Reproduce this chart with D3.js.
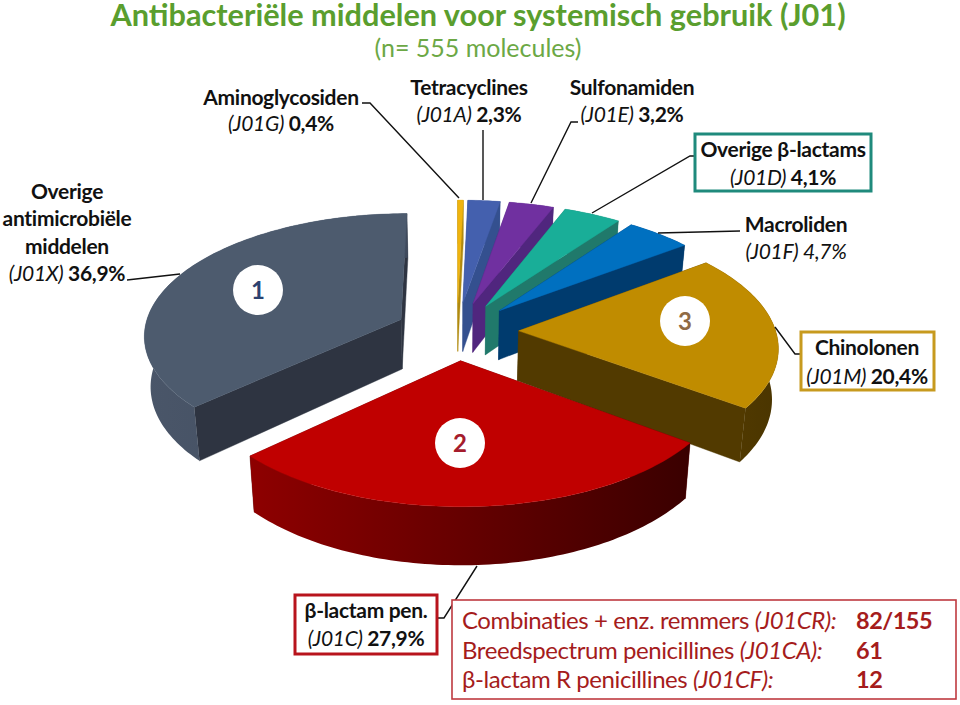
<!DOCTYPE html>
<html><head><meta charset="utf-8">
<script src="https://cdn.jsdelivr.net/npm/d3@7"></script>
<style>
html,body{margin:0;padding:0;background:#fff}
svg{display:block}
text{font-family:Lato,"Open Sans",sans-serif}
</style></head><body><svg id="c" width="960" height="705"></svg>
<script>
const categories=["Aminoglycosiden","Tetracyclines","Sulfonamiden","Overige β-lactams","Macroliden","Chinolonen","β-lactam pen.","Overige antimicrobiële middelen"];
const codes=["J01G","J01A","J01E","J01D","J01F","J01M","J01C","J01X"];
const shares=[0.4,2.3,3.2,4.1,4.7,20.4,27.9,36.9];
const shareLabels=["0,4%","2,3%","3,2%","4,1%","4,7%","20,4%","27,9%","36,9%"];
const topColors=["#EFB40F","#4460AE","#7030A0","#19AE98","#0070C0","#C08C00","#C00000","#4D5B6E"];
const sideColors=["#B08A10","#34508F","#50267E","#20796B","#003B6E","#523A00","#5C0000","#2E3441"];
const wallLeft=["#B08A10","#34508F","#50267E","#20796B","#003B6E","#553C00","#8E0000","#4A5669"];
const wallRight=["#B08A10","#34508F","#50267E","#20796B","#003B6E","#4A3500","#3A0000","#3F4A5C"];
const drawOrder=[0,1,2,3,4,7,5,6];
const subItems=["Combinaties + enz. remmers","Breedspectrum penicillines","β-lactam R penicillines"];
const subCodes=["J01CR","J01CA","J01CF"];
const subValues=["82/155","61","12"];

const svg=d3.select("#c");
const defs=svg.append("defs");
const cx=457,cy=331,A=257,B=121,P=0.118,EXPLODE=0.24,DEPTH=50,SHRINK=0.98;
const sx=d3.scaleLinear([0,1],[cx,cx+A]);
const sy=d3.scaleLinear([0,1],[cy,cy-B]);
function projTop(X,Y){const w=1+P*Y;return [sx(X/w),sy(Y/w)];}
function projBot(X,Y){const w=1+P*Y;return [cx+(sx(X/w)-cx)*SHRINK,sy(Y/w)+DEPTH/w];}
const line=d3.line();
const arcs=d3.pie().sort(null)(shares);

drawOrder.forEach(i=>{
  const a=arcs[i],mid=(a.startAngle+a.endAngle)/2;
  const ox=EXPLODE*Math.sin(mid),oy=EXPLODE*Math.cos(mid);
  const n=Math.max(2,Math.ceil((a.endAngle-a.startAngle)/0.02));
  const ang=d3.range(n+1).map(k=>a.startAngle+(a.endAngle-a.startAngle)*k/n);
  const rim=ang.map(t=>[ox+Math.sin(t),oy+Math.cos(t)]);
  const topRim=rim.map(p=>projTop(p[0],p[1]));
  const botRim=rim.map(p=>projBot(p[0],p[1]));
  const g=svg.append("g").attr("class","slice");
  const apexT=projTop(ox,oy),apexB=projBot(ox,oy);
  [[0],[n]].forEach(([k])=>{
    g.append("path").attr("d",line([apexT,topRim[k],botRim[k],apexB])+"Z")
     .attr("fill",sideColors[i]).attr("stroke",sideColors[i]).attr("stroke-width",0.4);
  });
  const xs=topRim.map(p=>p[0]);
  const id="w"+i;
  const lg=defs.append("linearGradient").attr("id",id).attr("gradientUnits","userSpaceOnUse")
    .attr("x1",d3.min(xs)).attr("x2",d3.max(xs)).attr("y1",0).attr("y2",0);
  lg.append("stop").attr("offset",0).attr("stop-color",wallLeft[i]);
  lg.append("stop").attr("offset",1).attr("stop-color",wallRight[i]);
  g.append("path").attr("d",line(topRim.concat(botRim.slice().reverse()))+"Z")
   .attr("fill","url(#"+id+")");
  g.append("path").attr("d",line([apexT].concat(topRim))+"Z").attr("fill",topColors[i])
   .attr("stroke",topColors[i]).attr("stroke-width",0.4);
});

const leaders=[
 [[362,103],[370,103],[459,198]],
 [[483,130],[483,200]],
 [[578,122],[571,122],[531,203]],
 [[694,156],[690,156],[592,213]],
 [[740,231],[658,233]],
 [[802,354],[795,354],[775,327]],
 [[127,280],[180,274]],
 [[437,618],[444,618],[477,566]]
];
svg.append("g").selectAll("path").data(leaders).join("path")
 .attr("d",d=>line(d)).attr("fill","none").attr("stroke","#111").attr("stroke-width",1.4);

const boxes=[
 {x:695,y:134,w:176,h:57,c:"#1F8A7C",s:3},
 {x:801,y:332,w:133,h:58,c:"#C79A1E",s:3},
 {x:295,y:595,w:142,h:59,c:"#B8141C",s:3},
 {x:452,y:600,w:504,h:99,c:"#BE3A40",s:1.6}
];
svg.append("g").selectAll("rect").data(boxes).join("rect")
 .attr("x",d=>d.x).attr("y",d=>d.y).attr("width",d=>d.w).attr("height",d=>d.h)
 .attr("fill","#fff").attr("stroke",d=>d.c).attr("stroke-width",d=>d.s);

const badges=[{t:"1",x:258,y:290,c:"#2C4270"},{t:"2",x:460,y:443,c:"#A51C2C"},{t:"3",x:685,y:321,c:"#8F6B45"}];
const bg=svg.append("g").selectAll("g").data(badges).join("g");
bg.append("circle").attr("cx",d=>d.x).attr("cy",d=>d.y).attr("r",25).attr("fill","#fff");
bg.append("text").attr("x",d=>d.x).attr("y",d=>d.y+8.5).attr("text-anchor","middle")
 .attr("font-size",24).attr("font-weight",700).attr("fill",d=>d.c).text(d=>d.t);

function put(x,y,size,anchor,fill,runs,ls){
  const t=svg.append("text").attr("x",x).attr("y",y).attr("font-size",size).attr("text-anchor",anchor)
    .attr("fill",fill).attr("letter-spacing",ls||0);
  runs.forEach(r=>t.append("tspan").attr("font-weight",r[1]?700:400).attr("font-style",r[2]?"italic":"normal").text(r[0]));
}
function label(i,x,y1,dy,first){
  (first||[categories[i]]).forEach((s,k)=>put(x,y1+k*dy,21,"middle","#111",[[s,1]],-0.3));
  const y=y1+(first?first.length:1)*dy;
  const boldShare=i!==4;
  put(x,y,21,"middle","#111",[["("+codes[i]+") ",0,1],[shareLabels[i],boldShare,!boldShare]],-0.3);
}
put(478,26,30.7,"middle","#5A9E2E",[["Antibacteriële middelen voor systemisch gebruik (J01)",1]],0);
put(478,57,25,"middle","#6CA845",[["(n= 555 molecules)",0]],0);
label(0,281,105,26);
label(1,469,95,27);
label(2,632,95,27);
label(3,783,157,28);
label(4,796,232,27);
label(5,867,355,29);
label(6,366,618,27.5);
label(7,67,199,27.3,["Overige","antimicrobiële","middelen"]);
subItems.forEach((s,k)=>{
  const y=629+k*29.5;
  put(462,y,24,"start","#A51C1C",[[s+" ",0],["("+subCodes[k]+"):",0,1]],-0.42);
  put(856,y,23.5,"start","#A51C1C",[[subValues[k],1]],-0.5);
});
</script></body></html>
